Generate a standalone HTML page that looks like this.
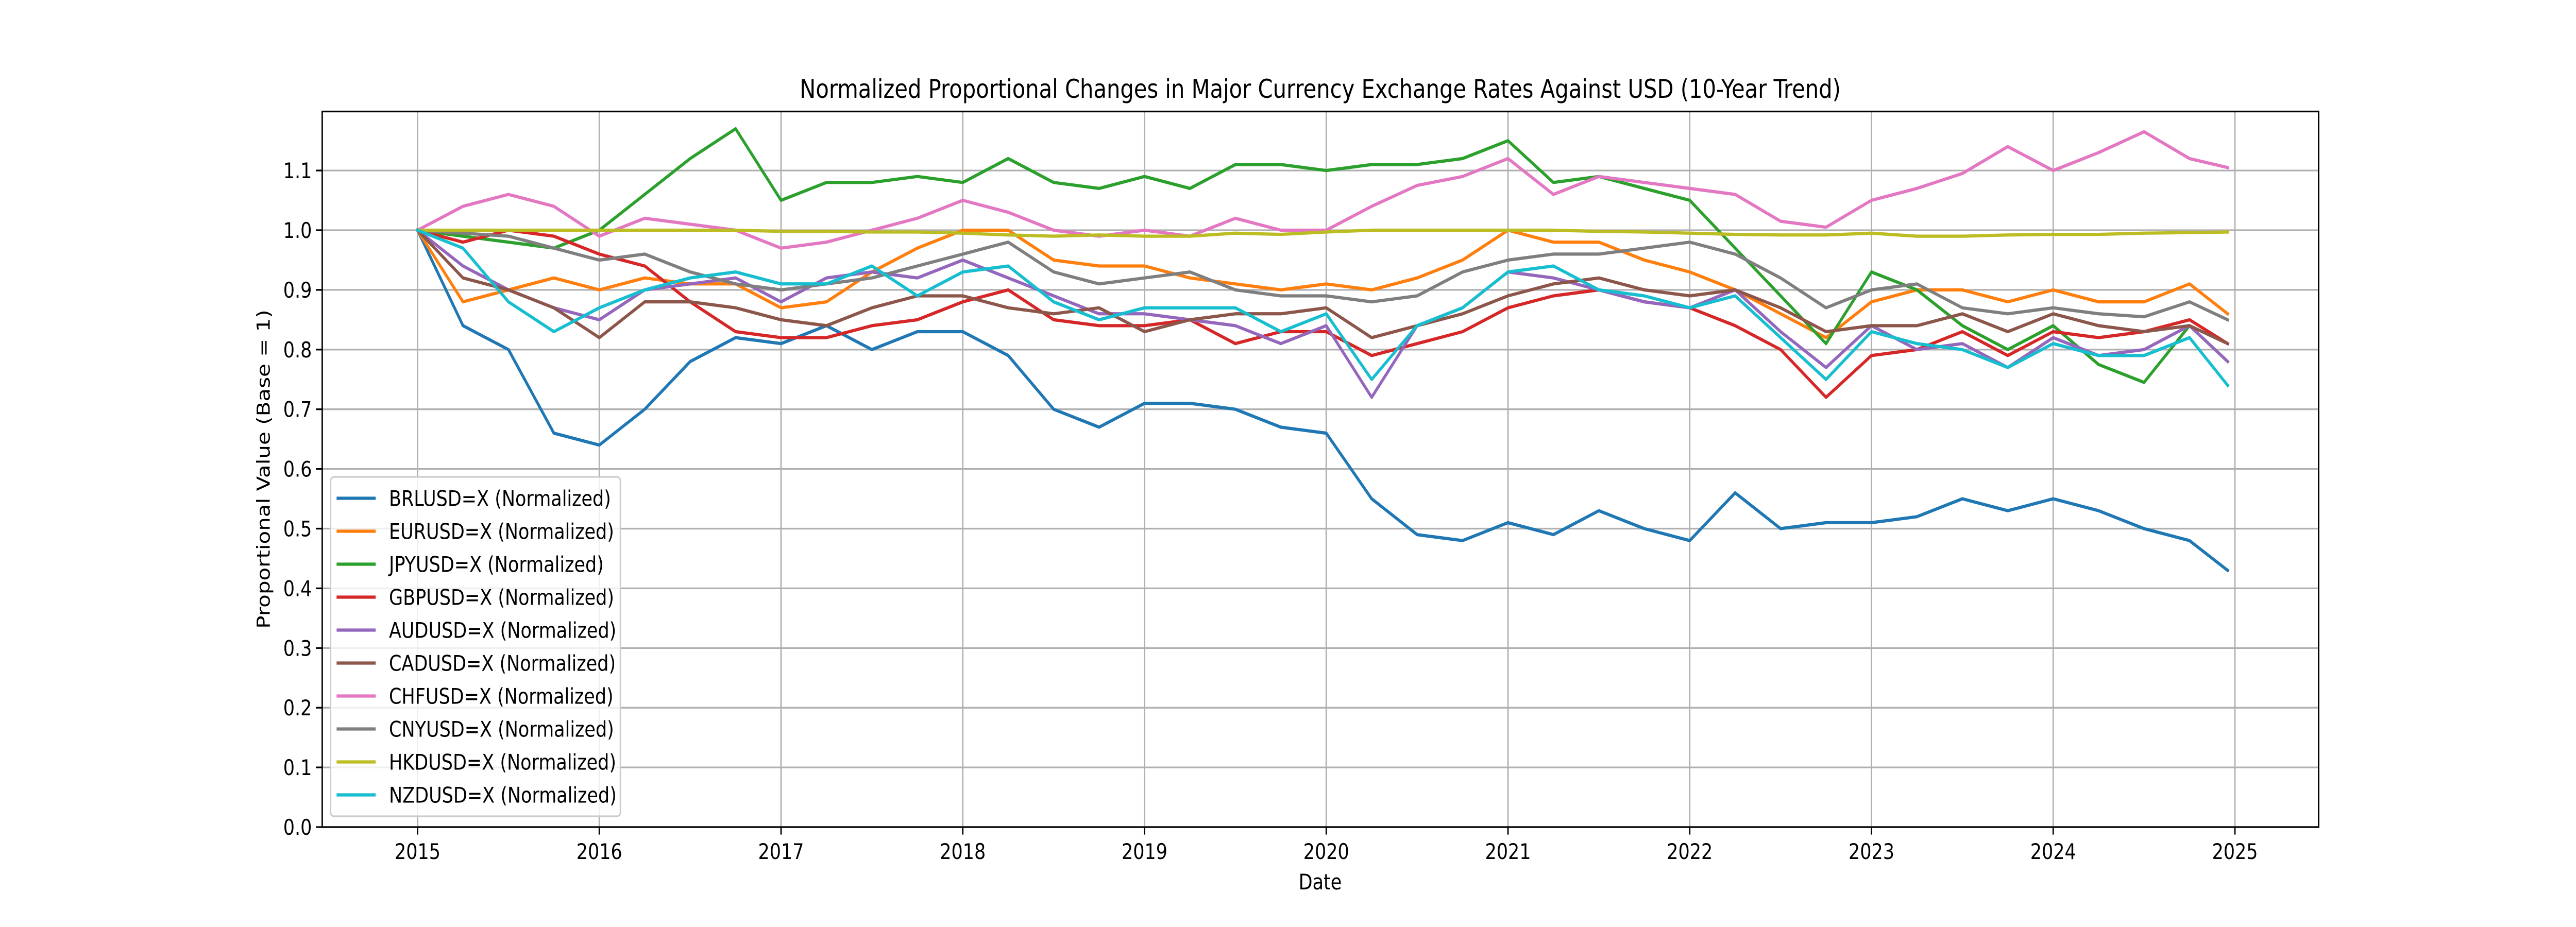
<!DOCTYPE html>
<html><head><meta charset="utf-8"><style>
html,body{margin:0;padding:0;background:#fff;overflow:hidden;width:100%;height:100%;}
svg{display:block;width:100vw;height:100vh;font-family:"DejaVu Sans","Liberation Sans",sans-serif;}
</style></head><body>
<svg id="chart" viewBox="0 0 6000 1800" preserveAspectRatio="none" xmlns="http://www.w3.org/2000/svg">
<rect width="6000" height="1800" fill="#fff"/>
<text x="3075" y="190" font-size="50" text-anchor="middle">Normalized Proportional Changes in Major Currency Exchange Rates Against USD (10-Year Trend)</text>
<g id="grid"></g>
<g id="series"></g>
<rect x="750.5" y="216.5" width="4650" height="1389.5" fill="none" stroke="#000" stroke-width="3.3"/>
<g id="ticks"></g>
<text x="3075" y="1727" font-size="42" text-anchor="middle">Date</text>
<text x="0" y="0" font-size="42" text-anchor="middle" transform="translate(628,911) rotate(-90)">Proportional Value (Base = 1)</text>
<g id="legend"></g>
</svg>
<script>
const names = ["BRLUSD=X","EURUSD=X","JPYUSD=X","GBPUSD=X","AUDUSD=X","CADUSD=X","CHFUSD=X","CNYUSD=X","HKDUSD=X","NZDUSD=X"];
const colors = ["#1f77b4","#ff7f0e","#2ca02c","#d62728","#9467bd","#8c564b","#e377c2","#7f7f7f","#bcbd22","#17becf"];
const xTicks = [2015,2016,2017,2018,2019,2020,2021,2022,2023,2024,2025];
const yTicks = [0.0,0.1,0.2,0.3,0.4,0.5,0.6,0.7,0.8,0.9,1.0,1.1];
const dates = [2015,2015.25,2015.5,2015.75,2016,2016.25,2016.5,2016.75,2017,2017.25,2017.5,2017.75,2018,2018.25,2018.5,2018.75,2019,2019.25,2019.5,2019.75,2020,2020.25,2020.5,2020.75,2021,2021.25,2021.5,2021.75,2022,2022.25,2022.5,2022.75,2023,2023.25,2023.5,2023.75,2024,2024.25,2024.5,2024.75,2024.96];
const brl = [1.0,0.84,0.80,0.66,0.64,0.70,0.78,0.82,0.81,0.84,0.80,0.83,0.83,0.79,0.70,0.67,0.71,0.71,0.70,0.67,0.66,0.55,0.49,0.48,0.51,0.49,0.53,0.50,0.48,0.56,0.50,0.51,0.51,0.52,0.55,0.53,0.55,0.53,0.50,0.48,0.43];
const eur = [1.0,0.88,0.90,0.92,0.90,0.92,0.91,0.91,0.87,0.88,0.93,0.97,1.0,1.0,0.95,0.94,0.94,0.92,0.91,0.90,0.91,0.90,0.92,0.95,1.0,0.98,0.98,0.95,0.93,0.90,0.86,0.82,0.88,0.90,0.90,0.88,0.90,0.88,0.88,0.91,0.86];
const jpy = [1.0,0.99,0.98,0.97,1.0,1.06,1.12,1.17,1.05,1.08,1.08,1.09,1.08,1.12,1.08,1.07,1.09,1.07,1.11,1.11,1.10,1.11,1.11,1.12,1.15,1.08,1.09,1.07,1.05,0.97,0.89,0.81,0.93,0.90,0.84,0.80,0.84,0.775,0.745,0.84,0.78];
const gbp = [1.0,0.98,1.0,0.99,0.96,0.94,0.88,0.83,0.82,0.82,0.84,0.85,0.88,0.90,0.85,0.84,0.84,0.85,0.81,0.83,0.83,0.79,0.81,0.83,0.87,0.89,0.90,0.88,0.87,0.84,0.80,0.72,0.79,0.80,0.83,0.79,0.83,0.82,0.83,0.85,0.81];
const aud = [1.0,0.94,0.90,0.87,0.85,0.90,0.91,0.92,0.88,0.92,0.93,0.92,0.95,0.92,0.89,0.86,0.86,0.85,0.84,0.81,0.84,0.72,0.84,0.87,0.93,0.92,0.90,0.88,0.87,0.90,0.83,0.77,0.84,0.80,0.81,0.77,0.82,0.79,0.80,0.84,0.78];
const cad = [1.0,0.92,0.90,0.87,0.82,0.88,0.88,0.87,0.85,0.84,0.87,0.89,0.89,0.87,0.86,0.87,0.83,0.85,0.86,0.86,0.87,0.82,0.84,0.86,0.89,0.91,0.92,0.90,0.89,0.90,0.87,0.83,0.84,0.84,0.86,0.83,0.86,0.84,0.83,0.84,0.81];
const chf = [1.0,1.04,1.06,1.04,0.99,1.02,1.01,1.0,0.97,0.98,1.0,1.02,1.05,1.03,1.0,0.99,1.0,0.99,1.02,1.0,1.0,1.04,1.075,1.09,1.12,1.06,1.09,1.08,1.07,1.06,1.015,1.005,1.05,1.07,1.095,1.14,1.10,1.13,1.165,1.12,1.105];
const cny = [1.0,0.995,0.99,0.97,0.95,0.96,0.93,0.91,0.90,0.91,0.92,0.94,0.96,0.98,0.93,0.91,0.92,0.93,0.90,0.89,0.89,0.88,0.89,0.93,0.95,0.96,0.96,0.97,0.98,0.96,0.92,0.87,0.90,0.91,0.87,0.86,0.87,0.86,0.855,0.88,0.85];
const hkd = [1.0,1.0,1.0,1.0,1.0,1.0,1.0,1.0,0.998,0.998,0.997,0.997,0.995,0.992,0.99,0.992,0.99,0.99,0.995,0.993,0.997,1.0,1.0,1.0,1.0,1.0,0.998,0.997,0.995,0.993,0.992,0.992,0.995,0.99,0.99,0.992,0.993,0.993,0.995,0.996,0.997];
const nzd = [1.0,0.97,0.88,0.83,0.87,0.90,0.92,0.93,0.91,0.91,0.94,0.89,0.93,0.94,0.88,0.85,0.87,0.87,0.87,0.83,0.86,0.75,0.84,0.87,0.93,0.94,0.90,0.89,0.87,0.89,0.82,0.75,0.83,0.81,0.80,0.77,0.81,0.79,0.79,0.82,0.74];
const seriesValues = [brl,eur,jpy,gbp,aud,cad,chf,cny,hkd,nzd];

const NS = "http://www.w3.org/2000/svg";
const L = 750.5, R = 5400.5, T = 216.5, B = 1606;
function xScale(yr){ return 972.6 + (yr - 2015) * 423.3; }
function yScale(v){ return B - v * 1159; }
function mk(tag, attrs, parent){ const e = document.createElementNS(NS, tag); for (const k in attrs) e.setAttribute(k, attrs[k]); parent.appendChild(e); return e; }

const grid = document.getElementById('grid');
const ticks = document.getElementById('ticks');
xTicks.forEach(t => {
  const x = xScale(t);
  const g = mk('line', {x1:x, x2:x, y1:T, y2:B, stroke:'#b0b0b0', 'stroke-width':3.3}, grid);
  
  
  const tk = mk('line', {x1:x, x2:x, y1:B, y2:B+14.6, stroke:'#000', 'stroke-width':3.3}, ticks);
  
  
  const lb = mk('text', {x:x, y:1668, 'font-size':42, 'text-anchor':'middle'}, ticks);
  lb.textContent = String(t);
  
  
});
yTicks.forEach(t => {
  const y = yScale(t);
  const g = mk('line', {x1:L, x2:R, y1:y, y2:y, stroke:'#b0b0b0', 'stroke-width':3.3}, grid);
  
  
  const tk = mk('line', {x1:L-14.6, x2:L, y1:y, y2:y, stroke:'#000', 'stroke-width':3.3}, ticks);
  
  
  const lb = mk('text', {x:L-24, y:y+15, 'font-size':42, 'text-anchor':'end'}, ticks);
  lb.textContent = t.toFixed(1);
  
  
});

const sg = document.getElementById('series');
seriesValues.forEach((vals, i) => {
  const pts = vals.map((v, j) => xScale(dates[j]).toFixed(1) + ',' + yScale(v).toFixed(1)).join(' ');
  const pl = mk('polyline', {points:pts, fill:'none', stroke:colors[i], 'stroke-width':6.25, 'stroke-linejoin':'round', 'stroke-linecap':'square'}, sg);
  
  
});

const lg = document.getElementById('legend');
const box = mk('rect', {x:770, y:926, width:675, height:659, rx:8, fill:'#fff', 'fill-opacity':0.8, stroke:'#cccccc', 'stroke-width':3.3}, lg);


names.forEach((n, i) => {
  const cy = 967.5 + i * 64.0;
  const ln = mk('line', {x1:784, x2:875, y1:cy, y2:cy, stroke:colors[i], 'stroke-width':6.25}, lg);
  
  
  const tx = mk('text', {x:906, y:cy+15, 'font-size':42}, lg);
  tx.textContent = n + ' (Normalized)';
  
  
});
</script>
</body></html>
